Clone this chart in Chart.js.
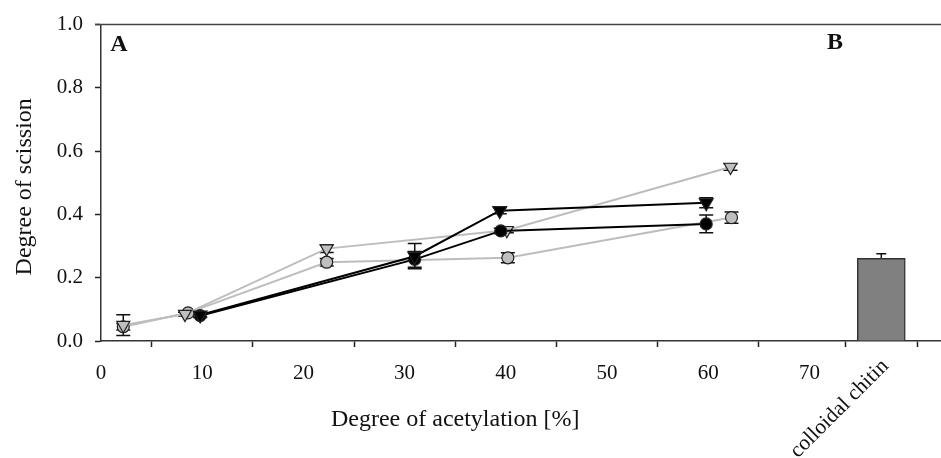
<!DOCTYPE html>
<html>
<head>
<meta charset="utf-8">
<script src="https://cdn.jsdelivr.net/npm/chart.js@4/dist/chart.umd.min.js"></script>
<style>
  html, body { margin: 0; padding: 0; background: #fff; }
  #wrap { width: 941px; height: 458px; }
</style>
</head>
<body>
<div id="wrap"><canvas id="c" width="941" height="458"></canvas></div>
<script>
// ---- data ----
const X_TICKS = [0, 10, 20, 30, 40, 50, 60, 70];
const Y_TICKS = [0, 0.2, 0.4, 0.6, 0.8, 1.0];
const CHITIN_POS = 77.1;
const CHITIN_LABEL = 'colloidal chitin';
const CHITIN_VALUE = 0.261;
const CHITIN_ERR = 0.015;

const BLACK_CIRCLE_X = [9.8, 31.0, 39.5, 59.8];
const BLACK_CIRCLE_Y = [0.080, 0.258, 0.348, 0.370];
const BLACK_CIRCLE_ERR = [0.006, 0.025, 0.008, 0.028];

const BLACK_TRI_X = [9.8, 31.0, 39.4, 59.8];
const BLACK_TRI_Y = [0.082, 0.268, 0.412, 0.437];
const BLACK_TRI_ERR = [0.006, 0.040, 0.010, 0.016];

const GRAY_CIRCLE_X = [2.2, 8.6, 22.3, 40.2, 62.3];
const GRAY_CIRCLE_Y = [0.045, 0.089, 0.249, 0.263, 0.390];
const GRAY_CIRCLE_ERR = [0.010, 0.006, 0.012, 0.016, 0.018];

const GRAY_TRI_X = [2.2, 8.3, 22.3, 40.1, 62.2];
const GRAY_TRI_Y = [0.050, 0.085, 0.292, 0.350, 0.550];
const GRAY_TRI_ERR = [0.033, 0.006, 0.012, 0.008, 0.010];

const X_TITLE = 'Degree of acetylation [%]';
const Y_TITLE = 'Degree of scission';
const PANEL_A = 'A';
const PANEL_B = 'B';

// ---- helpers ----
const pts = (xs, ys) => xs.map((x, i) => ({ x: x, y: ys[i] }));
const SERIF = '"Liberation Serif", "DejaVu Serif", serif';

function lineSet(label, xs, ys, errs, color, fill, style, rot, radius) {
  return {
    type: 'line',
    label: label,
    data: pts(xs, ys),
    errors: errs,
    showLine: true,
    borderColor: color,
    borderWidth: 2,
    backgroundColor: fill,
    pointBackgroundColor: fill,
    pointBorderColor: '#222',
    pointBorderWidth: 1.2,
    pointStyle: style,
    pointRotation: rot,
    pointRadius: radius,
    pointHoverRadius: radius,
    fill: false,
    tension: 0
  };
}

const errorBars = {
  id: 'errorBars',
  beforeDatasetsDraw(chart) {
    const ctx = chart.ctx, xs = chart.scales.x, ys = chart.scales.y;
    ctx.save();
    ctx.strokeStyle = '#111';
    ctx.lineWidth = 1.5;
    chart.data.datasets.forEach(ds => {
      if (!ds.errors) return;
      const cap = ds.type === 'bar' ? 5 : 7;
      ds.data.forEach((p, i) => {
        const e = ds.errors[i];
        const px = xs.getPixelForValue(p.x);
        const top = ys.getPixelForValue(p.y + e);
        const bot = ys.getPixelForValue(Math.max(0, p.y - e));
        ctx.beginPath();
        ctx.moveTo(px, top); ctx.lineTo(px, bot);
        ctx.moveTo(px - cap, top); ctx.lineTo(px + cap, top);
        ctx.moveTo(px - cap, bot); ctx.lineTo(px + cap, bot);
        ctx.stroke();
      });
    });
    ctx.restore();
  },
  afterDraw(chart) {
    const ctx = chart.ctx, xs = chart.scales.x;
    const a = chart.chartArea;
    ctx.save();
    // top frame line
    ctx.strokeStyle = '#444';
    ctx.lineWidth = 1.5;
    ctx.beginPath();
    ctx.moveTo(a.left - 6, a.top);
    ctx.lineTo(a.right, a.top);
    ctx.stroke();
    // axis titles
    ctx.fillStyle = '#111';
    ctx.font = '24px ' + SERIF;
    ctx.textAlign = 'center';
    ctx.textBaseline = 'middle';
    ctx.fillText(X_TITLE, xs.getPixelForValue((X_TICKS[0] + X_TICKS[X_TICKS.length - 1]) / 2), a.bottom + 79);
    ctx.save();
    ctx.translate(25, (a.top + a.bottom) / 2 + 4);
    ctx.rotate(-Math.PI / 2);
    ctx.fillText(Y_TITLE, 0, 0);
    ctx.restore();
    // category label rotated
    ctx.save();
    ctx.font = '21.5px ' + SERIF;
    ctx.textAlign = 'right';
    ctx.textBaseline = 'middle';
    ctx.translate(xs.getPixelForValue(CHITIN_POS) + 4, a.bottom + 22);
    ctx.rotate(-Math.PI / 4);
    ctx.fillText(CHITIN_LABEL, 0, 0);
    ctx.restore();
    // panel letters
    ctx.font = 'bold 24px ' + SERIF;
    ctx.textAlign = 'center';
    ctx.fillText(PANEL_A, a.left + 18, a.top + 20);
    ctx.fillText(PANEL_B, a.left + 734, a.top + 18);
    ctx.restore();
  }
};

new Chart(document.getElementById('c'), {
  type: 'scatter',
  data: {
    datasets: [
      lineSet('black triangles', BLACK_TRI_X, BLACK_TRI_Y, BLACK_TRI_ERR, '#000', '#000', 'triangle', 180, 8),
      lineSet('black circles', BLACK_CIRCLE_X, BLACK_CIRCLE_Y, BLACK_CIRCLE_ERR, '#000', '#000', 'circle', 0, 6),
      lineSet('gray triangles', GRAY_TRI_X, GRAY_TRI_Y, GRAY_TRI_ERR, '#bdbdbd', '#bfbfbf', 'triangle', 180, 7.5),
      lineSet('gray circles', GRAY_CIRCLE_X, GRAY_CIRCLE_Y, GRAY_CIRCLE_ERR, '#bdbdbd', '#bfbfbf', 'circle', 0, 6),
      {
        type: 'bar',
        label: CHITIN_LABEL,
        data: [{ x: CHITIN_POS, y: CHITIN_VALUE }],
        errors: [CHITIN_ERR],
        backgroundColor: '#808080',
        borderColor: '#333',
        borderWidth: 1.5,
        borderSkipped: 'bottom',
        barThickness: 48
      }
    ]
  },
  options: {
    responsive: false,
    animation: false,
    devicePixelRatio: 1,
    layout: { autoPadding: false, padding: { top: 20, right: 0, left: 0, bottom: 0 } },
    plugins: { legend: { display: false }, tooltip: { enabled: false } },
    scales: {
      x: {
        type: 'linear',
        min: 0,
        max: 83,
        offset: false,
        afterFit(s) { s.height = 117; },
        afterBuildTicks(s) { s.ticks = X_TICKS.concat([CHITIN_POS]).map(v => ({ value: v })); },
        grid: { drawOnChartArea: false, drawTicks: true, tickLength: 6, tickColor: '#222', tickWidth: 1.5 },
        border: { display: true, color: '#333', width: 1.5 },
        ticks: {
          color: '#111',
          font: { family: SERIF, size: 21 },
          padding: 14,
          maxRotation: 0,
          autoSkip: false,
          callback: (v) => (X_TICKS.includes(v) ? String(v) : '')
        }
      },
      y: {
        min: 0,
        max: 1,
        afterFit(s) { s.width = 101; },
        afterBuildTicks(s) { s.ticks = Y_TICKS.map(v => ({ value: v })); },
        grid: { drawOnChartArea: false, drawTicks: true, tickLength: 6, tickColor: '#222', tickWidth: 1.5 },
        border: { display: true, color: '#333', width: 1.5 },
        ticks: {
          color: '#111',
          font: { family: SERIF, size: 21 },
          padding: 12,
          callback: (v) => Number(v).toFixed(1)
        }
      }
    }
  },
  plugins: [errorBars]
});
</script>
</body>
</html>
